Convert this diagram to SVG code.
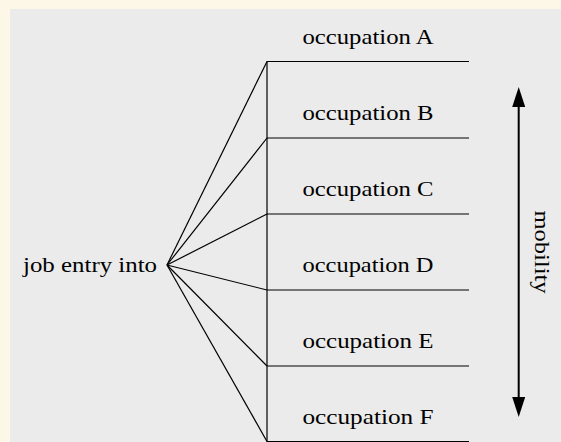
<svg xmlns="http://www.w3.org/2000/svg" width="561" height="442" viewBox="0 0 561 442">
<style>
.lbl{font-family:"Liberation Serif","Times New Roman",serif;font-size:21px;fill:#000}
.occ{text-anchor:middle}
.ln{stroke:#000;stroke-width:1.2;fill:none}
</style>
<rect x="0" y="0" width="561" height="442" fill="#fcf7e6"/>
<rect x="10" y="9" width="551" height="433" fill="#ebebeb"/>
<g id="connectors">
<line class="ln" x1="267" y1="61.5" x2="267" y2="442"/>
<line class="ln" x1="167" y1="265" x2="267" y2="61.5"/>
<line class="ln" x1="167" y1="265" x2="267" y2="138"/>
<line class="ln" x1="167" y1="265" x2="267" y2="214"/>
<line class="ln" x1="167" y1="265" x2="267" y2="290"/>
<line class="ln" x1="167" y1="265" x2="267" y2="366"/>
<line class="ln" x1="167" y1="265" x2="267" y2="441.5"/>
<line class="ln" x1="267" y1="61.5" x2="469" y2="61.5"/>
<line class="ln" x1="267" y1="138" x2="469" y2="138"/>
<line class="ln" x1="267" y1="214" x2="469" y2="214"/>
<line class="ln" x1="267" y1="290" x2="469" y2="290"/>
<line class="ln" x1="267" y1="366" x2="469" y2="366"/>
<line class="ln" x1="267" y1="441.5" x2="469" y2="441.5"/>
</g>
<g id="source"><text class="lbl" x="23" y="272" textLength="134" lengthAdjust="spacingAndGlyphs">job entry into</text></g>
<g id="occA"><text class="lbl occ" x="368" y="44" textLength="131" lengthAdjust="spacingAndGlyphs">occupation A</text></g>
<g id="occB"><text class="lbl occ" x="368" y="120" textLength="131" lengthAdjust="spacingAndGlyphs">occupation B</text></g>
<g id="occC"><text class="lbl occ" x="368" y="196" textLength="131" lengthAdjust="spacingAndGlyphs">occupation C</text></g>
<g id="occD"><text class="lbl occ" x="368" y="272" textLength="131" lengthAdjust="spacingAndGlyphs">occupation D</text></g>
<g id="occE"><text class="lbl occ" x="368" y="348" textLength="131" lengthAdjust="spacingAndGlyphs">occupation E</text></g>
<g id="occF"><text class="lbl occ" x="368" y="424" textLength="131" lengthAdjust="spacingAndGlyphs">occupation F</text></g>
<g id="mobility">
<line x1="518.7" y1="105" x2="518.7" y2="399" stroke="#000" stroke-width="2"/>
<polygon points="518.7,87 512.2,107 525.2,107" fill="#000"/>
<polygon points="518.7,417 512.2,397 525.2,397" fill="#000"/>
<text class="lbl" transform="translate(535,252) rotate(90)" x="0" y="0" text-anchor="middle" textLength="83" lengthAdjust="spacingAndGlyphs">mobility</text>
</g>
</svg>
